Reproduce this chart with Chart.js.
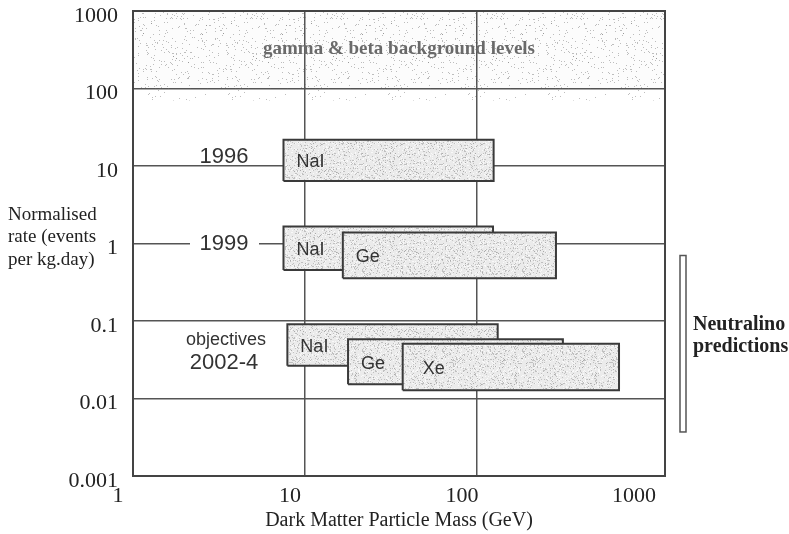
<!DOCTYPE html>
<html>
<head>
<meta charset="utf-8">
<script src="https://cdn.jsdelivr.net/npm/chart.js@4.4.1/dist/chart.umd.min.js"></script>
<style>
  html, body { margin: 0; padding: 0; background: #fff; }
  #wrap { width: 789px; height: 534px; }
</style>
</head>
<body>
<div id="wrap"><canvas id="darkMatter" width="789" height="534"></canvas></div>
<script>
// detector sensitivity boxes: mass range (GeV) and rate range (events per kg.day)
const boxNames = ['NaI 1996', 'NaI 1999', 'Ge 1999', 'NaI 2002-4', 'Ge 2002-4', 'Xe 2002-4']
const boxLabels = ['NaI', 'NaI', 'Ge', 'NaI', 'Ge', 'Xe']
const massLow = [7.5, 7.5, 16.6, 7.9, 17.8, 37]
const massHigh = [125, 124, 288, 132, 316, 670]
const rateHigh = [21.8, 1.66, 1.39, 0.091, 0.058, 0.051]
const rateLow = [6.4, 0.455, 0.357, 0.0264, 0.0153, 0.0128]

// gamma & beta background band
const bgRate = [100, 1000]
const bgFringe = [70, 100]

// neutralino predictions (rate range)
const neutralinoRate = [0.0037, 0.7]

const massRange = [1, 1240]
const rateRange = [0.001, 1000]
const massTicks = [1, 10, 100, 1000]
const rateTicks = [0.001, 0.01, 0.1, 1, 10, 100, 1000]

const serif = 'Liberation Serif'
const sans = 'Liberation Sans'

// speckled grey texture like the printed figure
function stipple(base, dots, seed) {
  const c = document.createElement('canvas')
  c.width = c.height = 80
  const g = c.getContext('2d')
  g.fillStyle = base
  g.fillRect(0, 0, 80, 80)
  let s = seed
  dots.forEach(([color, count]) => {
    g.fillStyle = color
    for (let i = 0; i < count; i++) {
      s = (s * 16807) % 2147483647
      const px = s % 80
      s = (s * 16807) % 2147483647
      const py = s % 80
      g.fillRect(px, py, 1, 1)
    }
  })
  return g.createPattern(c, 'repeat')
}

function rect(x0, x1, y0, y1) {
  return [{x: x0, y: y0}, {x: x1, y: y0}, {x: x1, y: y1}, {x: x0, y: y1}, {x: x0, y: y0}]
}

const boxFill = stipple('#ebebeb', [['rgba(150,150,150,0.5)', 1100], ['#f9f9f9', 800]], 12345)
const bandFill = stipple('rgba(0,0,0,0.01)', [['rgba(110,110,110,0.45)', 300]], 777)
const fringeFill = stipple('rgba(0,0,0,0)', [['rgba(110,110,110,0.45)', 110]], 4242)

const datasets = [
  {
    label: 'gamma & beta background',
    data: rect(massRange[0], massRange[1], bgRate[0], bgRate[1]),
    backgroundColor: bandFill, borderWidth: 0, fill: 'shape', order: 10
  },
  {
    label: 'background fringe',
    data: rect(massRange[0], massRange[1], bgFringe[0], bgFringe[1]),
    backgroundColor: fringeFill, borderWidth: 0, fill: 'shape', order: 9
  }
]
boxNames.forEach((name, i) => {
  datasets.push({
    label: name,
    data: rect(massLow[i], massHigh[i], rateLow[i], rateHigh[i]),
    backgroundColor: boxFill,
    borderColor: '#3a3a3a',
    borderWidth: 2,
    fill: 'shape',
    order: -i
  })
})

const notes = {
  id: 'notes',
  afterDatasetsDraw(chart) {
    const {ctx, chartArea: a, scales: {x, y}} = chart
    ctx.save()
    ctx.strokeStyle = '#444'
    ctx.lineWidth = 2
    ctx.strokeRect(a.left, a.top, a.right - a.left, a.bottom - a.top)

    ctx.textBaseline = 'middle'
    ctx.textAlign = 'center'
    ctx.fillStyle = '#6a6a6a'
    ctx.font = 'bold 19px "' + serif + '"'
    ctx.fillText('gamma & beta background levels', (a.left + a.right) / 2, (y.getPixelForValue(1000) + y.getPixelForValue(100)) / 2 - 1)

    // year labels
    const cx = a.left + 91
    ctx.fillStyle = '#fff'
    ctx.fillRect(cx - 34, y.getPixelForValue(1) - 9, 69, 18)
    ctx.fillStyle = '#333'
    ctx.font = '22px "' + sans + '"'
    ctx.fillText('1996', cx, y.getPixelForValue(10) - 9)
    ctx.fillText('1999', cx, y.getPixelForValue(1))
    ctx.fillText('2002-4', cx, y.getPixelForValue(0.1) + 42)
    ctx.font = '18px "' + sans + '"'
    ctx.fillText('objectives', cx + 2, y.getPixelForValue(0.1) + 19)

    // detector labels
    ctx.textAlign = 'left'
    ctx.font = '18px "' + sans + '"'
    boxLabels.forEach((t, i) => {
      const lx = x.getPixelForValue(massLow[i]) + (t === 'Xe' ? 20 : 13)
      const ly = (y.getPixelForValue(rateLow[i]) + y.getPixelForValue(rateHigh[i])) / 2 + 2
      ctx.fillText(t, lx, ly)
    })

    // neutralino predictions bar
    const top = y.getPixelForValue(neutralinoRate[1])
    const bot = y.getPixelForValue(neutralinoRate[0])
    ctx.fillStyle = '#fff'
    ctx.strokeStyle = '#555'
    ctx.lineWidth = 1.5
    ctx.fillRect(a.right + 15, top, 6, bot - top)
    ctx.strokeRect(a.right + 15, top, 6, bot - top)
    ctx.fillStyle = '#222'
    ctx.font = 'bold 20px "' + serif + '"'
    ctx.fillText('Neutralino', a.right + 28, y.getPixelForValue(0.1) + 4)
    ctx.fillText('predictions', a.right + 28, y.getPixelForValue(0.1) + 26)

    // y axis title
    ctx.font = '19px "' + serif + '"'
    ctx.fillText('Normalised', 8, 215)
    ctx.fillText('rate (events', 8, 237)
    ctx.fillText('per kg.day)', 8, 260)
    ctx.restore()
  }
}

const canvas = document.getElementById('darkMatter')
const darkMatter = new Chart(canvas, {
  type: 'scatter',
  data: { datasets: datasets },
  options: {
    responsive: false,
    animation: false,
    showLine: true,
    layout: { padding: { top: 11, right: 124, left: 0, bottom: 0 } },
    elements: {
      point: { radius: 0, hoverRadius: 0 },
      line: { tension: 0 }
    },
    plugins: {
      legend: { display: false },
      tooltip: { enabled: false }
    },
    scales: {
      x: {
        type: 'logarithmic',
        min: massRange[0],
        max: massRange[1],
        afterBuildTicks: (s) => { s.ticks = massTicks.map(v => ({ value: v })) },
        afterFit: (s) => { s.height = 58; s.paddingLeft = 0; s.paddingRight = 0 },
        grid: {
          drawTicks: false,
          lineWidth: 1.5,
          color: (c) => (c.tick && (c.tick.value === 10 || c.tick.value === 100)) ? '#555' : 'rgba(0,0,0,0)'
        },
        border: { display: false },
        ticks: {
          autoSkip: false,
          maxRotation: 0,
          padding: 7,
          labelOffset: -15,
          color: '#222',
          font: { family: serif, size: 22 },
          callback: (v) => String(v)
        },
        title: {
          display: true,
          text: 'Dark Matter Particle Mass (GeV)',
          color: '#222',
          font: { family: serif, size: 20 },
          padding: { top: 0, bottom: 1 }
        }
      },
      y: {
        type: 'logarithmic',
        min: rateRange[0],
        max: rateRange[1],
        afterBuildTicks: (s) => { s.ticks = rateTicks.map(v => ({ value: v })) },
        afterFit: (s) => { s.width = 133; s.paddingTop = 0; s.paddingBottom = 0 },
        grid: { drawTicks: false, lineWidth: 1.5, color: '#555' },
        border: { display: false },
        ticks: {
          autoSkip: false,
          padding: 15,
          labelOffset: 5,
          color: '#222',
          font: { family: serif, size: 22 },
          callback: (v) => String(v)
        }
      }
    }
  },
  plugins: [notes]
})
</script>
</body>
</html>
